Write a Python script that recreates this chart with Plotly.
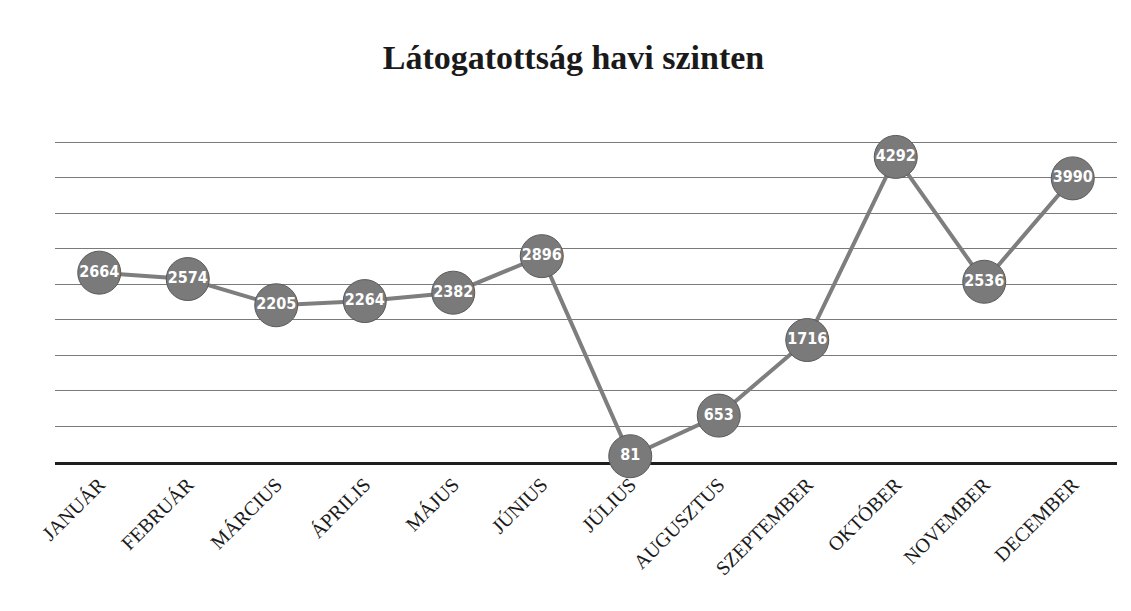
import plotly.graph_objects as go

months = ["JANUÁR", "FEBRUÁR", "MÁRCIUS", "ÁPRILIS", "MÁJUS", "JÚNIUS",
          "JÚLIUS", "AUGUSZTUS", "SZEPTEMBER", "OKTÓBER", "NOVEMBER", "DECEMBER"]
visits = [2664, 2574, 2205, 2264, 2382, 2896, 81, 653, 1716, 4292, 2536, 3990]

title_text = "Látogatottság havi szinten"

fig = go.Figure()
fig.add_trace(go.Scatter(
    x=months, y=visits,
    mode="lines+markers+text",
    line=dict(color="#7e7e7e", width=4),
    marker=dict(size=43, color="#7a7a7a", line=dict(color="#5a5a5a", width=1)),
    text=[str(v) for v in visits],
    textposition="middle center",
    textfont=dict(family="DejaVu Sans Condensed", size=16, color="white", weight="bold"),
    cliponaxis=False,
    hoverinfo="skip",
))

fig.update_layout(
    width=1131, height=611,
    margin=dict(l=47, r=22, t=132, b=157),
    paper_bgcolor="white", plot_bgcolor="white",
    showlegend=False,
    title=dict(text=title_text, x=0.5, xanchor="center", y=0.92, yanchor="middle",
               font=dict(family="Liberation Serif", size=34, color="#1a1a1a", weight="bold")),
    xaxis=dict(
        type="category",
        range=[-0.5, len(months) - 0.5],
        automargin=False,
        showgrid=False,
        showline=True, linecolor="#1e1e1e", linewidth=3,
        layer="below traces",
        tickangle=-45,
        tickfont=dict(family="Liberation Serif", size=20, color="#1a1a1a"),
        ticks="",
    ),
    yaxis=dict(
        range=[0, 4530], dtick=500,
        automargin=False,
        showgrid=True, gridcolor="#7a7a7a", gridwidth=1,
        showticklabels=False, zeroline=False, showline=False,
        layer="below traces",
    ),
)

fig.write_html("out.html")
